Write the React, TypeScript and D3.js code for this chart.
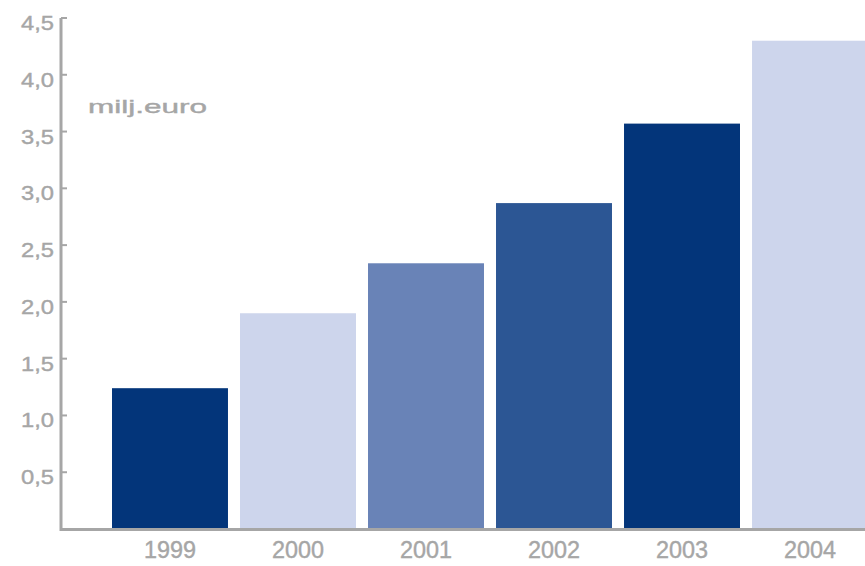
import React from "react";
import * as d3 from "d3";

const years = ["1999", "2000", "2001", "2002", "2003", "2004"];
const values = [1.24, 1.9, 2.34, 2.87, 3.57, 4.3];
const barColors = ["#03357a", "#cdd5ec", "#6983b7", "#2c5694", "#03357a", "#cdd5ec"];
const yTicks = [0.5, 1.0, 1.5, 2.0, 2.5, 3.0, 3.5, 4.0, 4.5];
const yTickLabels = ["0,5", "1,0", "1,5", "2,0", "2,5", "3,0", "3,5", "4,0", "4,5"];
const unitLabel = "milj.euro";

const W = 865;
const H = 566;

export default function App() {
  const y = d3.scaleLinear().domain([0, 4.5]).range([529, 18]);
  const x = d3
    .scaleBand<string>()
    .domain(years)
    .range([112, 868])
    .paddingInner(0.094)
    .paddingOuter(0);
  const axisX = 61;
  const grey = "#a6a6a6";
  const font = "Arial, 'Liberation Sans', Helvetica, sans-serif";

  return (
    <svg
      width={W}
      height={H}
      style={{ position: "absolute", left: 0, top: 0, background: "#fff" }}
    >
      {values.map((v, i) => (
        <rect
          key={years[i]}
          x={x(years[i])}
          y={y(v)}
          width={x.bandwidth()}
          height={y(0) - y(v)}
          fill={barColors[i]}
        />
      ))}
      {/* x axis */}
      <line x1={axisX} x2={W} y1={y(0) + 0.5} y2={y(0) + 0.5} stroke={grey} strokeWidth={3} />
      {/* y axis */}
      <line x1={axisX} x2={axisX} y1={y(4.5)} y2={y(0) + 2} stroke={grey} strokeWidth={3} />
      {yTicks.map((t, i) => (
        <g key={t}>
          <line x1={axisX} x2={axisX + 6} y1={y(t)} y2={y(t)} stroke={grey} strokeWidth={2} />
          <text
            x={54}
            y={y(t) + 12}
            textAnchor="end"
            fontFamily={font}
            fontSize={21}
            fill={grey}
            stroke={grey}
            strokeWidth={0.4}
            textLength={33}
            lengthAdjust="spacingAndGlyphs"
          >
            {yTickLabels[i]}
          </text>
        </g>
      ))}
      <text
        x={88}
        y={113}
        fontFamily={font}
        fontSize={19}
        fill={grey}
        stroke={grey}
        strokeWidth={0.4}
        textLength={119}
        lengthAdjust="spacingAndGlyphs"
      >
        {unitLabel}
      </text>
      {years.map((yr) => (
        <text
          key={yr}
          x={(x(yr) as number) + x.bandwidth() / 2 - 26}
          y={558}
          fontFamily={font}
          fontSize={23}
          fill={grey}
          stroke={grey}
          strokeWidth={0.4}
          textLength={52}
          lengthAdjust="spacingAndGlyphs"
        >
          {yr}
        </text>
      ))}
    </svg>
  );
}
